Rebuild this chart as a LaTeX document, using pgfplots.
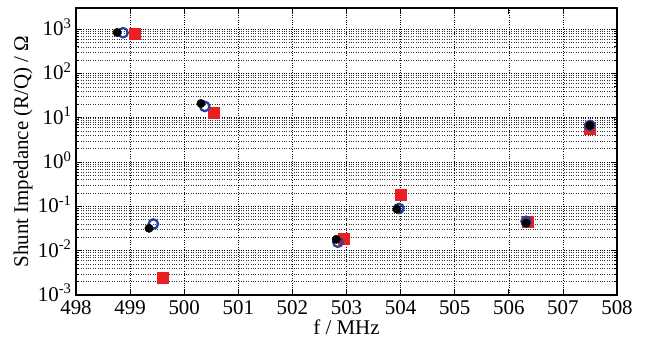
\documentclass[border=0pt]{standalone}
\usepackage{pgfplots}
\pgfplotsset{compat=1.18}
\usepackage{fontspec}
\setmainfont{Liberation Serif}
\definecolor{myblue}{RGB}{35,65,160}
\definecolor{myred}{RGB}{235,30,35}
\begin{document}
\begin{tikzpicture}
\begin{axis}[
  scale only axis,
  width=541bp, height=287bp,
  at={(0,0)}, anchor=south west,
  xmin=498, xmax=508,
  ymode=log, ymin=1e-3, ymax=3000,
  xtick={498,499,...,508},
  ytick={1e-3,1e-2,1e-1,1,10,100,1000},
  yticklabels={10\textsuperscript{-3},10\textsuperscript{-2},10\textsuperscript{-1},10\textsuperscript{0},10\textsuperscript{1},10\textsuperscript{2},10\textsuperscript{3}},
  /pgf/number format/assume math mode=true,
  /pgf/number format/1000 sep={},
  tick label style={font=\fontsize{21}{23}\selectfont},
  label style={font=\fontsize{21}{23}\selectfont},
  xlabel={f / MHz},
  ylabel={Shunt Impedance (R/Q) / Ω},
  x label style={at={(axis description cs:0.5,-0.112)},anchor=center},
  y label style={at={(axis description cs:-0.098,0.5)},anchor=center},
  grid=both,
  major grid style={dotted, black, line width=0.6bp},
  minor grid style={dotted, black!80, line width=0.5bp},
  tick align=inside,
  major tick length=6bp,
  minor tick length=3bp,
  every tick/.style={black, line width=0.7bp},
  axis line style={line width=1.3bp},
  xticklabel style={yshift=-2bp},
  yticklabel style={xshift=-1bp, yshift=2bp},
]
\addplot[only marks, mark=square*, mark size=5.5bp, color=myred] coordinates {
  (499.09,800) (500.55,13) (499.61,0.0024) (502.94,0.019) (504.01,0.18) (506.35,0.044) (507.5,5.8)
};
\addplot[only marks, mark=o, mark size=4.7bp, mark options={line width=2.3bp, draw=myblue}, color=myblue] coordinates {
  (498.87,830) (500.38,18) (499.43,0.040) (502.84,0.0155) (503.97,0.09) (506.32,0.046) (507.5,6.7)
};
\addplot[only marks, mark=*, mark size=4.2bp, color=black] coordinates {
  (498.76,840) (500.31,21) (499.35,0.032) (502.81,0.018) (503.93,0.087) (506.32,0.042) (507.5,6.7)
};
\end{axis}
\pgfresetboundingbox
\path (-76bp,-47bp) rectangle (569bp,295bp);
\end{tikzpicture}
\end{document}
